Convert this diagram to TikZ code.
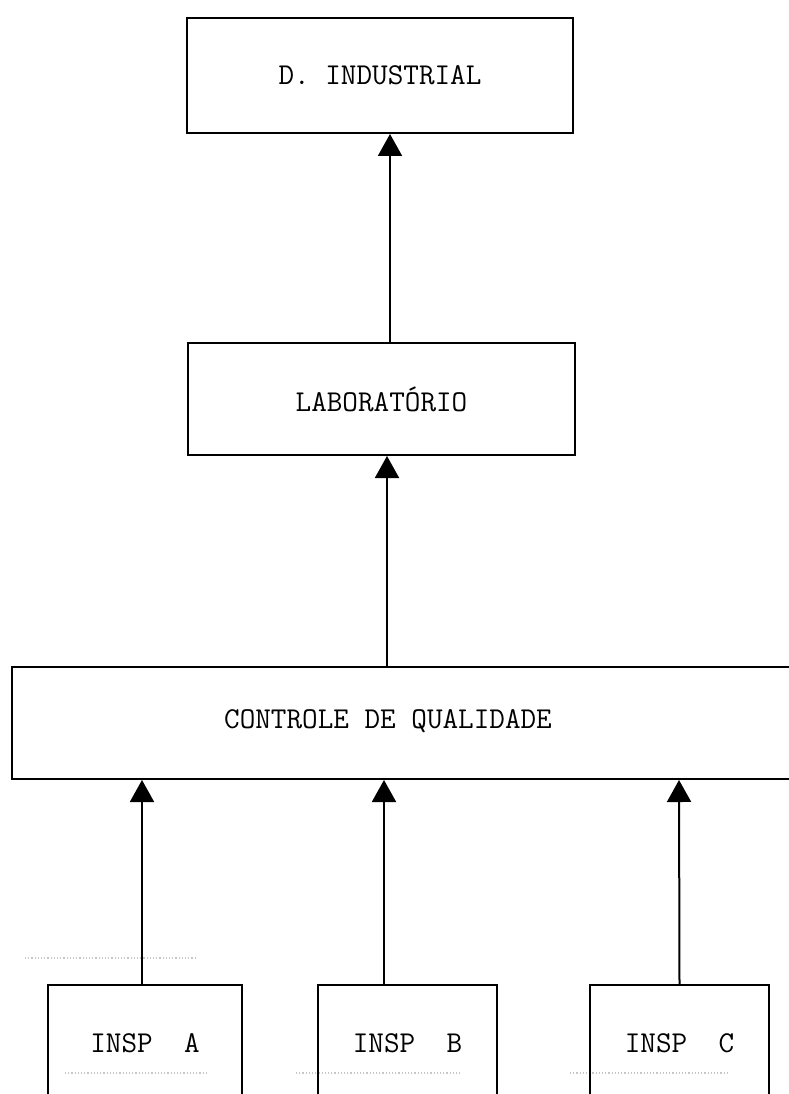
\documentclass[tikz,border=0pt]{standalone}
\usetikzlibrary{arrows.meta}

\tikzset{
  box/.style={draw, line width=2pt, inner sep=0pt},
  up/.style={line width=2pt, -{Triangle[width=24pt,length=22pt]}},
  scanline/.style={gray!45, dotted, line width=1.2pt},
}

\begin{document}
\begin{tikzpicture}[x=1pt, y=-1pt, font=\fontsize{30.3}{36}\selectfont\ttfamily]
                \useasboundingbox [fill=white] (0,0) rectangle (788,1094);
                % faint lines of the form
                \draw [scanline] (25,958) -- (196,958);
                \draw [scanline] (65,1073) -- (206,1073) (296,1073) -- (460,1073) (570,1073) -- (729,1073);
                % boxes
                \node [box, minimum width=386, minimum height=115] (ind) at (380,75.5) {D. INDUSTRIAL};
                \node [box, minimum width=387, minimum height=112] (lab) at (381.5,399) {LABORATÓRIO};
                \node [box, minimum width=800, minimum height=112] (qual) at (412,723) {};
                \node (qualtxt) at (388,721) {CONTROLE DE QUALIDADE};
                \node [box, minimum width=194, minimum height=116] (inspA) at (145,1043) {INSP~~A};
                \node [box, minimum width=179, minimum height=116] (inspB) at (407.5,1043) {INSP~~B};
                \node [box, minimum width=179, minimum height=116] (inspC) at (679.5,1043) {INSP~~C};
                % arrows
                \draw [up] ([xshift=8.5]lab.north) -- ([xshift=10]ind.south);
                \draw [up] ([xshift=-25]qual.north) -- ([xshift=5.5]lab.south);
                \draw [up] ([xshift=-3]inspA.north) -- ([xshift=-270]qual.south);
                \draw [up] ([xshift=-23.5]inspB.north) -- ([xshift=-28]qual.south);
                \draw [up] (inspC.north) -- ([xshift=267]qual.south);
            \end{tikzpicture}
\end{document}
